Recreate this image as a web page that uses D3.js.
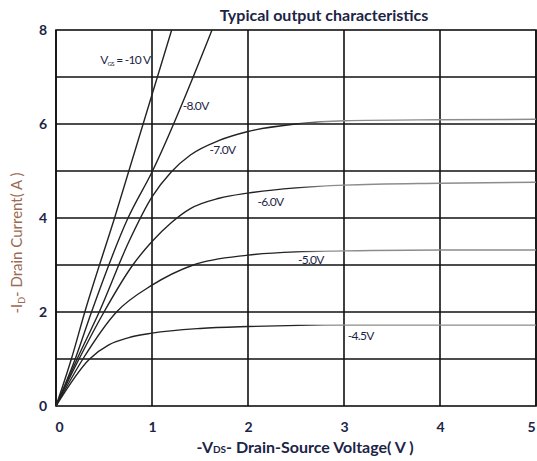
<!DOCTYPE html>
<html>
<head>
<meta charset="utf-8">
<script src="https://cdn.jsdelivr.net/npm/d3@7"></script>
<style>
  body { margin: 0; background: #fff; }
  text { font-family: Lato, "Open Sans", sans-serif; }
</style>
</head>
<body>
<div id="chart"></div>
<script>
// ticks
var xTicks = [0, 1, 2, 3, 4, 5];
var yTicks = [0, 2, 4, 6, 8];
var yGrid  = [1, 2, 3, 4, 5, 6, 7];

// curves, [ -Vds , -Id ]
var vgs10  = [[0,0],[0.16,1],[0.30,2],[0.61,4],[1.205,8]];
var vgs8   = [[0,0],[0.20,1],[0.37,2],[0.75,4],[1.0,4.98],[1.625,8]];
var vgs7   = [[0,0],[0.22,1],[0.45,2],[0.76,3.5],[1.0,4.45],[1.2,4.98],[1.4,5.34],[1.7,5.65],[2.0,5.84],[2.5,6.0],[3.0,6.07],[4.0,6.09],[5.0,6.1]];
var vgs6   = [[0,0],[0.24,1],[0.5,2],[0.8,3.0],[1.0,3.5],[1.2,3.9],[1.4,4.2],[1.7,4.42],[2.0,4.53],[2.5,4.64],[3.0,4.7],[4.0,4.74],[5.0,4.76]];
var vgs5   = [[0,0],[0.28,1],[0.63,2],[1.0,2.57],[1.43,3.0],[2.0,3.21],[2.5,3.28],[3.0,3.3],[4.0,3.32],[5.0,3.32]];
var vgs45  = [[0,0],[0.35,1],[0.55,1.3],[0.75,1.45],[1.0,1.55],[1.5,1.65],[2.0,1.69],[3.0,1.72],[4.0,1.72],[5.0,1.72]];
var series = [vgs10, vgs8, vgs7, vgs6, vgs5, vgs45];
var curveLabels = ["-10 V", "-8.0V", "-7.0V", "-6.0V", "-5.0V", "-4.5V"];

var outerWidth = 537, outerHeight = 461;
var margin = {top: 30, right: 1, bottom: 55, left: 56};
var width  = outerWidth - margin.left - margin.right,
    height = outerHeight - margin.top - margin.bottom;

var navy = "#1c2446";

var svg = d3.select("#chart").append("svg")
    .attr("width", outerWidth)
    .attr("height", outerHeight);

var g = svg.append("g")
    .attr("transform", "translate(" + margin.left + "," + margin.top + ")");

var x = d3.scaleLinear().domain([0, 5]).range([0, width]);
var y = d3.scaleLinear().domain([0, 8]).range([height, 0]);

// curves go grey once they flatten out (as in the scan)
var grad = svg.append("defs").append("linearGradient")
    .attr("id", "tail")
    .attr("gradientUnits", "userSpaceOnUse")
    .attr("x1", x(0)).attr("x2", x(5)).attr("y1", 0).attr("y2", 0);
grad.append("stop").attr("offset", "0.5").attr("stop-color", "#222");
grad.append("stop").attr("offset", "0.56").attr("stop-color", "#8c8c8c");
grad.append("stop").attr("offset", "1").attr("stop-color", "#8c8c8c");

// grid
g.append("g").selectAll("line").data(xTicks).enter().append("line")
    .attr("x1", function(d) { return x(d); })
    .attr("x2", function(d) { return x(d); })
    .attr("y1", 0).attr("y2", height)
    .attr("stroke", "#111").attr("stroke-width", 1.6);

g.append("g").selectAll("line").data(yGrid).enter().append("line")
    .attr("y1", function(d) { return y(d); })
    .attr("y2", function(d) { return y(d); })
    .attr("x1", 0).attr("x2", width)
    .attr("stroke", "#111").attr("stroke-width", 1.6);

g.append("rect")
    .attr("width", width).attr("height", height)
    .attr("fill", "none").attr("stroke", "#111").attr("stroke-width", 1.6);

// axes (labels only)
var xAxis = g.append("g")
    .attr("transform", "translate(0," + height + ")")
    .call(d3.axisBottom(x).tickValues(xTicks).tickSize(0).tickPadding(16).tickFormat(d3.format("d")));
var yAxis = g.append("g")
    .call(d3.axisLeft(y).tickValues(yTicks).tickSize(0).tickPadding(9).tickFormat(d3.format("d")));
[xAxis, yAxis].forEach(function(a) {
  a.select(".domain").remove();
  a.selectAll("text")
    .style("font-size", "14px").style("font-weight", "bold")
    .attr("fill", navy);
});
xAxis.selectAll("text").filter(function(d) { return d == 0; }).attr("x", 3);
xAxis.selectAll("text").filter(function(d) { return d == 5; }).attr("x", -5);

// curves
var line = d3.line()
    .x(function(d) { return x(d[0]); })
    .y(function(d) { return y(d[1]); })
    .curve(d3.curveMonotoneX);

g.append("g").selectAll("path").data(series).enter().append("path")
    .attr("d", line)
    .attr("fill", "none")
    .attr("stroke", function(d, i) { return i < 2 ? "#222" : "url(#tail)"; })
    .attr("stroke-width", 1.4);

// curve labels
var labelPos = [[0.46, 7.28], [1.32, 6.3], [1.6, 5.36], [2.1, 4.26], [2.52, 3.02], [3.04, 1.4]];
var lab = g.append("g").selectAll("text").data(curveLabels).enter().append("text")
    .attr("x", function(d, i) { return x(labelPos[i][0]); })
    .attr("y", function(d, i) { return y(labelPos[i][1]); })
    .attr("fill", navy)
    .style("font-size", "12px")
    .style("letter-spacing", "-0.7px")
    .text(function(d, i) { return i == 0 ? "" : d; });

var l0 = lab.filter(function(d, i) { return i == 0; });
l0.append("tspan").text("V");
l0.append("tspan").attr("dy", 2).style("font-size", "6px").text("GS");
l0.append("tspan").attr("dy", -2).text(" = " + curveLabels[0]);

// titles
svg.append("text")
    .attr("x", 324).attr("y", 21)
    .attr("text-anchor", "middle")
    .attr("fill", navy)
    .style("font-size", "16px").style("font-weight", "bold")
    .text("Typical output characteristics");

var xt = svg.append("text")
    .attr("x", 305).attr("y", 453)
    .attr("text-anchor", "middle")
    .attr("fill", navy)
    .style("font-size", "16px").style("font-weight", "bold");
xt.append("tspan").text("-V");
xt.append("tspan").style("font-size", "10px").text("DS");
xt.append("tspan").text("- Drain-Source Voltage( V )");

var yt = svg.append("text")
    .attr("transform", "translate(22,243) rotate(-90)")
    .attr("text-anchor", "middle")
    .attr("fill", "#9a6a52")
    .style("font-size", "15px");
yt.append("tspan").text("-I");
yt.append("tspan").attr("dy", 3).style("font-size", "9px").text("D");
yt.append("tspan").attr("dy", -3).text("- Drain Current( A )");
</script>
</body>
</html>
